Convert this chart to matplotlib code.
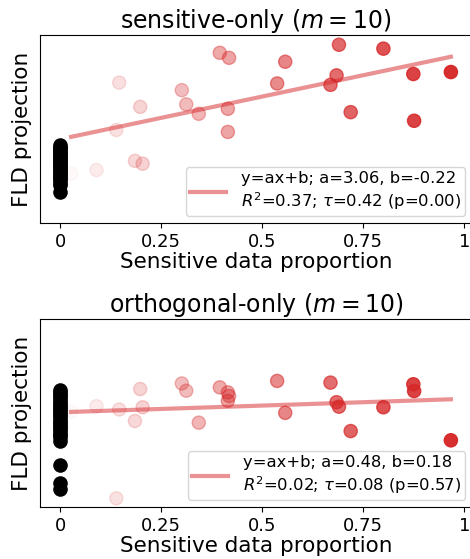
import matplotlib
matplotlib.use("Agg")
import matplotlib.pyplot as plt
import numpy as np

# nonzero sensitive proportions (shared by both panels)
prop = [0.027, 0.090, 0.139, 0.146, 0.185, 0.198, 0.204, 0.301, 0.312, 0.343,
        0.395, 0.415, 0.415, 0.418, 0.537, 0.557, 0.669, 0.684, 0.690, 0.719,
        0.800, 0.874, 0.876, 0.967]
sens_y = [-1.45, -1.33, 0.11, 1.81, -1.00, 0.94, -1.10, 1.54, 1.03, 0.69,
          2.88, 0.87, 0.04, 2.70, 1.78, 2.56, 1.73, 2.07, 3.17, 0.75,
          3.03, 2.12, 0.44, 2.19]
orth_y = [0.20, 0.40, -2.89, 0.28, -0.13, 1.01, 0.36, 1.21, 0.95, -0.19,
          1.07, 0.89, 0.59, 0.76, 1.30, 0.16, 1.24, 0.54, 0.38, -0.49,
          0.36, 1.18, 0.94, -0.82]
# projections of samples with zero sensitive proportion
sens_zero_y = [-0.43, -0.50, -0.55, -0.62, -0.68, -0.72, -0.80, -0.85, -0.90, -0.97,
               -1.02, -1.08, -1.15, -1.20, -1.25, -1.32, -1.38, -1.45, -1.50, -1.57,
               -1.62, -1.70, -1.78, -1.88, -2.12]
orth_zero_y = [0.97, 0.90, 0.82, 0.75, 0.68, 0.60, 0.52, 0.45, 0.38, 0.30,
               0.22, 0.15, 0.08, 0.00, -0.08, -0.15, -0.22, -0.30, -0.38, -0.45,
               -0.55, -0.62, -0.70, -0.84, -1.70, -2.36, -2.54]
# fit parameters
fits = {
    "sens": dict(a=3.06, b=-0.22, r2=0.37, tau=0.42, p=0.00),
    "orth": dict(a=0.48, b=0.18, r2=0.02, tau=0.08, p=0.57),
}
titles = ["sensitive-only ($m=10$)", "orthogonal-only ($m=10$)"]
xticks = [0, 0.25, 0.5, 0.75, 1]
xticklabels = ["0", "0.25", "0.5", "0.75", "1"]

red = "#d62728"

fig = plt.figure(figsize=(4.70, 5.59), dpi=100)
ax1 = fig.add_axes([40/470, 1-223/559, 432.3/470, 188/559])
ax2 = fig.add_axes([40/470, 1-507/559, 432.3/470, 188/559])

panels = [(ax1, sens_y, sens_zero_y, fits["sens"], titles[0], (-3.23, 3.52)),
          (ax2, orth_y, orth_zero_y, fits["orth"], titles[1], (-3.20, 3.51))]

x = np.array(prop)
for ax, ys, zy, f, title, ylim in panels:
    xl = np.array([x.min(), x.max()])
    ax.plot(xl, f["a"]*xl + f["b"], color=red, alpha=0.5, lw=3,
            label="y=ax+b; a=%.2f, b=%.2f\n$R^2$=%.2f; $\\tau$=%.2f (p=%.2f)"
            % (f["a"], f["b"], f["r2"], f["tau"], f["p"]))
    cols = [(0.839, 0.153, 0.157, a) for a in x]
    ax.scatter(x, ys, s=90, c=cols, edgecolors=cols, linewidths=1.0, zorder=3)
    ax.scatter(np.zeros(len(zy)), zy, s=90, color="black", zorder=3)
    ax.set_xlim(-0.05, 1.02)
    ax.set_ylim(*ylim)
    ax.set_yticks([])
    ax.set_xticks(xticks)
    ax.set_xticklabels(xticklabels, fontsize=13)
    ax.set_xlabel("Sensitive data proportion", fontsize=15.5, labelpad=1)
    ax.set_ylabel("FLD projection", fontsize=15.5, labelpad=6)
    ax.set_title(title, fontsize=17, pad=5)
    ax.legend(loc="lower right", fontsize=11.8, handlelength=2.2,
              borderpad=0.25, borderaxespad=0.45, handletextpad=0.9)

fig.savefig("out.png", dpi=100)
